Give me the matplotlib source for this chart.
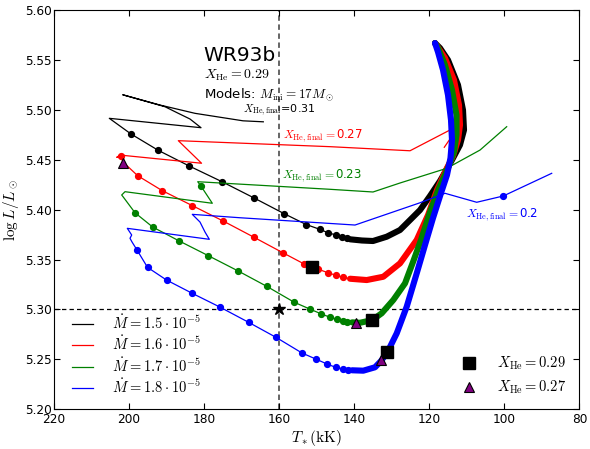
import matplotlib
matplotlib.use("Agg")
import matplotlib.pyplot as plt
from matplotlib.lines import Line2D

plt.rcParams['mathtext.fontset'] = 'cm'
plt.rcParams['font.family'] = ['DejaVu Sans']

# ---------------- data (T* in kK, log L/Lsun) ----------------
# black track  (Mdot = 1.5e-5)
black_thin_T = [164.16, 169.56, 182.34, 191.65, 201.58, 190.32, 186.78, 183.67, 180.74, 205.15,
                199.37, 192.11, 183.86, 175.15, 166.77, 158.57, 152.74, 149.2, 146.94, 144.81,
                143.29, 141.96, 141.08]
black_thin_L = [5.488, 5.489, 5.4965, 5.5048, 5.5151, 5.5031, 5.4965, 5.4908, 5.4821, 5.4915,
                5.4758, 5.4594, 5.4437, 5.428, 5.412, 5.3959, 5.3851, 5.3804, 5.3769, 5.3746,
                5.3729, 5.3713, 5.3703]
black_dot_T = [199.37, 192.11, 183.86, 175.15, 166.77, 158.57, 152.74, 149.2, 146.94, 144.81, 143.29, 141.96]
black_dot_L = [5.4758, 5.4594, 5.4437, 5.428, 5.412, 5.3959, 5.3851, 5.3804, 5.3769, 5.3746, 5.3729, 5.3713]
black_thick_T = [141.08, 137.89, 134.96, 131.32, 127.78, 125.11, 122.45, 119.79, 117.13, 113.94,
                 111.81, 110.74, 111.01, 112.34, 115.0, 117.13, 118.46]
black_thick_L = [5.3703, 5.3691, 5.3686, 5.3729, 5.3796, 5.3896, 5.3996, 5.4137, 5.4287, 5.4497,
                 5.4648, 5.4798, 5.4998, 5.5249, 5.5499, 5.5619, 5.5669]

# red track (Mdot = 1.6e-5)
red_thin_T = [114.47, 125.11, 146.41, 186.78, 180.6, 202.3, 203.18, 202.03, 201.58,
              197.59, 191.04, 183.08, 174.83, 166.77, 158.84, 153.25, 149.68, 147.07, 144.81,
              142.95, 141.08]
red_thin_L = [5.4798, 5.459, 5.4631, 5.4691, 5.4465, 5.4547, 5.4524, 5.454, 5.448,
              5.434, 5.419, 5.4041, 5.3886, 5.3726, 5.3566, 5.3455, 5.3405, 5.337, 5.3342,
              5.3322, 5.3308]
red_dot_T = [202.03, 197.59, 191.04, 183.08, 174.83, 166.77, 158.84, 153.25, 149.68, 147.07, 144.81, 142.95]
red_dot_L = [5.454, 5.434, 5.419, 5.4041, 5.3886, 5.3726, 5.3566, 5.3455, 5.3405, 5.337, 5.3342, 5.3322]
red_thick_T = [141.08, 136.64, 132.22, 127.78, 123.33, 120.32, 117.93, 115.53, 113.67, 112.34,
               111.81, 112.07, 113.41, 115.8, 117.93, 118.46]
red_thick_L = [5.3308, 5.3295, 5.3328, 5.3462, 5.3696, 5.3946, 5.4197, 5.4397, 5.4537, 5.4698,
               5.4848, 5.5048, 5.5299, 5.5519, 5.5639, 5.5669]
red_tick_T = [115.99, 114.65]
red_tick_L = [5.4625, 5.4698]

# green track (Mdot = 1.7e-5)
green_thin_T = [99.38, 106.48, 115.35, 127.78, 134.96, 146.41, 181.62, 180.82, 177.73, 200.97,
                201.85, 201.3, 198.31, 193.6, 186.68, 178.8, 170.97, 163.25, 155.91, 151.81,
                148.88, 146.41, 144.54, 142.95, 141.88, 140.55]
green_thin_L = [5.4831, 5.4597, 5.4414, 5.4267, 5.4177, 5.4204, 5.428, 5.424, 5.4064, 5.418,
                5.4147, 5.412, 5.3969, 5.3826, 5.3689, 5.3539, 5.3388, 5.3232, 5.3072, 5.3005,
                5.2958, 5.2922, 5.2901, 5.2887, 5.2877, 5.2871]
green_dot_T = [180.82, 198.31, 193.6, 186.68, 178.8, 170.97, 163.25, 155.91, 151.81, 148.88,
               146.41, 144.54, 142.95, 141.88]
green_dot_L = [5.424, 5.3969, 5.3826, 5.3689, 5.3539, 5.3388, 5.3232, 5.3072, 5.3005, 5.2958,
               5.2922, 5.2901, 5.2887, 5.2877]
green_thick_T = [140.55, 138.42, 135.15, 132.65, 129.56, 126.44, 124.32, 122.19, 119.79, 117.4,
                 115.0, 113.41, 112.74, 112.74, 113.94, 115.8, 117.66, 118.46]
green_thick_L = [5.2871, 5.2867, 5.2894, 5.2962, 5.3095, 5.3262, 5.3475, 5.3696, 5.3976, 5.4217,
                 5.4417, 5.4577, 5.4748, 5.4948, 5.5199, 5.5449, 5.5619, 5.5669]

# blue track (Mdot = 1.8e-5)
blue_thin_T = [87.4, 100.28, 107.36, 115.8, 122.45, 139.75, 170.36, 183.06, 181.01, 179.68,
               178.53, 200.36, 199.19, 199.64, 199.1, 197.78, 194.98, 189.92, 183.08, 175.6,
               168.05, 160.78, 153.86, 150.21, 147.21, 144.94, 142.95, 141.62, 140.55]
blue_thin_L = [5.4364, 5.4137, 5.4074, 5.4164, 5.4069, 5.3846, 5.3919, 5.3953, 5.3876, 5.3776,
               5.3703, 5.3813, 5.3746, 5.3713, 5.3676, 5.3596, 5.3422, 5.3295, 5.3162, 5.3022,
               5.2871, 5.2721, 5.2564, 5.2504, 5.2454, 5.2421, 5.2404, 5.2394, 5.2391]
blue_dot_T = [100.28, 197.78, 194.98, 189.92, 183.08, 175.6, 168.05, 160.78, 153.86, 150.21,
              147.21, 144.94, 142.95, 141.62]
blue_dot_L = [5.4137, 5.3596, 5.3422, 5.3295, 5.3162, 5.3022, 5.2871, 5.2721, 5.2564, 5.2504,
              5.2454, 5.2421, 5.2404, 5.2394]
blue_thick_T = [140.55, 137.55, 134.43, 132.83, 131.15, 128.65, 125.99, 123.33, 121.12, 118.99,
                116.86, 115.27, 114.34, 113.94, 114.2, 115.0, 116.33, 117.66, 118.46]
blue_thick_L = [5.2391, 5.2387, 5.2421, 5.2484, 5.2571, 5.2761, 5.3028, 5.3362, 5.3646, 5.3916,
                5.4167, 5.4347, 5.4517, 5.4698, 5.4898, 5.5148, 5.5399, 5.5579, 5.5669]

# markers
sq_T = [151.33, 135.15, 131.15]
sq_L = [5.3428, 5.2894, 5.2571]
tri_T = [201.58, 139.57, 132.91]
tri_L = [5.447, 5.2867, 5.2494]
star_T = [160.0]
star_L = [5.30]

mdot_labels = [r'$\dot M=1.5\cdot10^{-5}$', r'$\dot M=1.6\cdot10^{-5}$',
               r'$\dot M=1.7\cdot10^{-5}$', r'$\dot M=1.8\cdot10^{-5}$']
xticks = [220, 200, 180, 160, 140, 120, 100, 80]
yticks = [5.20, 5.25, 5.30, 5.35, 5.40, 5.45, 5.50, 5.55, 5.60]

# ---------------- figure ----------------
fig = plt.figure(figsize=(5.9, 4.49), dpi=100)
ax = fig.add_axes([0.0907, 0.0884, 0.8915, 0.8893])

colors = ['k', 'r', '#008000', 'b']
tracks = [
    (black_thin_T, black_thin_L, black_dot_T, black_dot_L, black_thick_T, black_thick_L),
    (red_thin_T, red_thin_L, red_dot_T, red_dot_L, red_thick_T, red_thick_L),
    (green_thin_T, green_thin_L, green_dot_T, green_dot_L, green_thick_T, green_thick_L),
    (blue_thin_T, blue_thin_L, blue_dot_T, blue_dot_L, blue_thick_T, blue_thick_L),
]
for i, (c, (tT, tL, dT, dL, kT, kL)) in enumerate(zip(colors, tracks)):
    z = 2 + i
    ax.plot(tT, tL, '-', color=c, lw=0.9, zorder=z)
    ax.plot(dT, dL, 'o', color=c, ms=4.2, mec=c, zorder=z)
    ax.plot(kT, kL, '-', color=c, lw=4.4, solid_capstyle='round', solid_joinstyle='round', zorder=z)

ax.plot(red_tick_T, red_tick_L, '-', color='r', lw=0.9, zorder=3)

ax.axvline(160, color='0.35', ls='--', lw=1.3, dashes=(3, 2), zorder=1)
ax.axhline(5.30, color='k', ls='--', lw=0.9, dashes=(3.5, 2.5), zorder=1)

ax.plot(sq_T, sq_L, 's', color='k', ms=8, zorder=10)
ax.plot(tri_T, tri_L, '^', color='#800080', mec='k', mew=0.8, ms=7.5, zorder=10)
ax.plot(star_T, star_L, '*', color='k', ms=9, zorder=10)

# texts
ax.text(180.0, 5.549, 'WR93b', fontsize=14.5, ha='left', va='baseline')
ax.text(180.0, 5.535, r'$X_{\rm He}=0.29$', fontsize=10, ha='left', va='center')
ax.text(180.0, 5.515, r'Models: $M_{\rm ini}=17M_\odot$', fontsize=9.5, ha='left', va='center')
ax.text(169.6, 5.4998, r'$X_{\rm He,final}$=0.31', fontsize=8, ha='left', va='center', color='k')
ax.text(159.0, 5.4738, r'$X_{\rm He,final}=$0.27', fontsize=8.5, ha='left', va='center', color='r')
ax.text(159.2, 5.434, r'$X_{\rm He,final}=$0.23', fontsize=8.5, ha='left', va='center', color='#008000')
ax.text(110.3, 5.3946, r'$X_{\rm He,final}=$0.2', fontsize=8.5, ha='left', va='center', color='b')

# legends
h1 = [Line2D([], [], color=c, lw=0.9) for c in colors]
leg1 = ax.legend(h1, mdot_labels, loc='lower left', frameon=False, fontsize=10.5,
                 handlelength=1.45, handletextpad=1.3, labelspacing=0.2,
                 bbox_to_anchor=(0.01, 0.0))
ax.add_artist(leg1)
h2 = [Line2D([], [], ls='none', marker='s', color='k', ms=8),
      Line2D([], [], ls='none', marker='^', color='#800080', mec='k', mew=0.8, ms=7.5)]
ax.legend(h2, [r'$X_{\rm He}=0.29$', r'$X_{\rm He}=0.27$'], loc='lower right', frameon=False,
          fontsize=10.5, handlelength=1.0, handletextpad=1.4, labelspacing=0.45,
          bbox_to_anchor=(1.0, 0.0))

ax.set_xlim(220, 80)
ax.set_ylim(5.20, 5.60)
ax.set_xticks(xticks)
ax.set_yticks(yticks)
ax.set_yticklabels(['%.2f' % v for v in yticks])
ax.tick_params(direction='in', top=True, right=True, length=4.5, width=0.8, labelsize=8.7)
ax.tick_params(axis='y', pad=1.5)
ax.tick_params(axis='x', pad=3)
ax.set_xlabel(r'$T_*(\rm kK)$', fontsize=11, labelpad=1)
ax.set_ylabel(r'$\log L/L_\odot$', fontsize=11, labelpad=3)

fig.savefig('out.png', dpi=100)
